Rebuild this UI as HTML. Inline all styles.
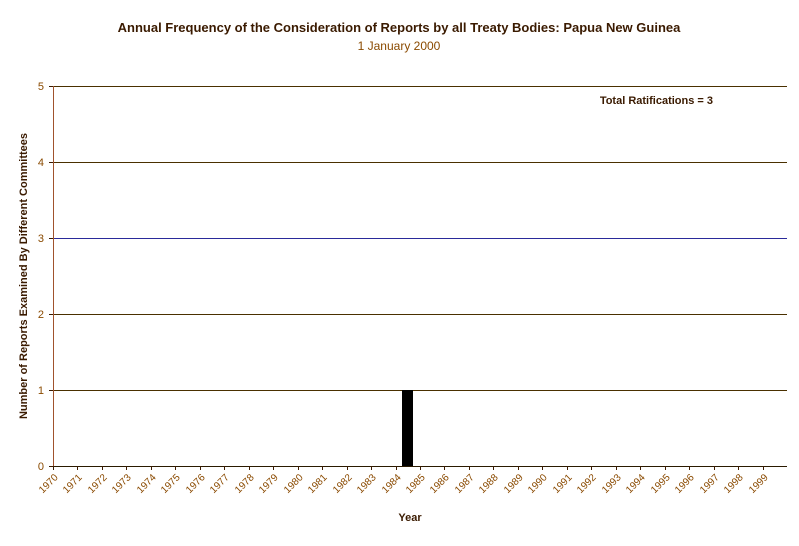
<!DOCTYPE html>
<html><head><meta charset="utf-8"><style>
body{margin:0;background:#fff;}
svg text{font-family:"Liberation Sans",Arial,sans-serif;}
line{shape-rendering:crispEdges;}
</style></head><body>
<svg width="799" height="541" xmlns="http://www.w3.org/2000/svg">
<text x="399" y="32" text-anchor="middle" font-size="13" font-weight="bold" fill="#3a1a00">Annual Frequency of the Consideration of Reports by all Treaty Bodies: Papua New Guinea</text>
<text x="399" y="50" text-anchor="middle" font-size="12" fill="#8a4a00">1 January 2000</text>
<text x="713" y="104" text-anchor="end" font-size="11" font-weight="bold" fill="#3a1a00">Total Ratifications = 3</text>
<g id="grid"></g>
<g id="bars"></g>
<g id="axes"></g>
<text x="410" y="521" text-anchor="middle" font-size="11" font-weight="bold" fill="#3a1a00">Year</text>
<text transform="translate(27,276) rotate(-90)" text-anchor="middle" font-size="11" font-weight="bold" fill="#3a1a00">Number of Reports Examined By Different Committees</text>
</svg>
<script>
const years = [];
for (let y = 1970; y <= 1999; y++) years.push(String(y));
const counts = [0,0,0,0,0,0,0,0,0,0,0,0,0,0,1,0,0,0,0,0,0,0,0,0,0,0,0,0,0,0];
const yTicks = [0,1,2,3,4,5];
const NS = "http://www.w3.org/2000/svg";
const L = 53, R = 787, T = 86, B = 466, YMAX = 5;
const cw = (R - L) / years.length;
const xs = i => L + i * cw;
const ys = v => B - (v / YMAX) * (B - T);
function mk(tag, attrs, parent){ const e = document.createElementNS(NS, tag); for (const k in attrs) e.setAttribute(k, attrs[k]); parent.appendChild(e); return e; }
const grid = document.getElementById('grid'), bars = document.getElementById('bars'), axes = document.getElementById('axes');
yTicks.forEach(v => {
  const yy = Math.round(ys(v)) + 0.5;
  if (v > 0) {
    const l = mk('line', {x1:L, x2:R, y1:yy, y2:yy, stroke: v === 3 ? '#2a2a9a' : '#4a3000', 'stroke-width':1}, grid);
    
    
  }
  const t = mk('text', {x:L-9, y:ys(v)+4, 'text-anchor':'end', 'font-size':11, fill:'#8a4a00'}, axes);
  t.textContent = v;
  
  
  const tk = mk('line', {x1:L-4, x2:L, y1:yy, y2:yy, stroke:'#3a1a00'}, axes);
  
  
});
counts.forEach((c, i) => {
  if (c > 0) {
    const bw = 11;
    const r = mk('rect', {x: Math.round(xs(i) + cw/2 - bw/2), y: Math.round(ys(c)), width: bw, height: B - Math.round(ys(c)), fill:'#000'}, bars);
    
    
  }
});
mk('line', {x1:L+0.5, x2:L+0.5, y1:T, y2:B, stroke:'#a0522d'}, axes);
mk('line', {x1:L, x2:R, y1:B+0.5, y2:B+0.5, stroke:'#2a1a00'}, axes);
years.forEach((y, i) => {
  const x = Math.round(xs(i)) + 0.5;
  const tk = mk('line', {x1:x, x2:x, y1:B, y2:B+4, stroke:'#3a1a00'}, axes);
  
  
  const t = mk('text', {x:x+5, y:B+12, 'text-anchor':'end', 'font-size':10, fill:'#8a4a00', transform:`rotate(-45 ${x+5} ${B+12})`}, axes);
  t.textContent = y;
  
  
});
</script>
</body></html>
